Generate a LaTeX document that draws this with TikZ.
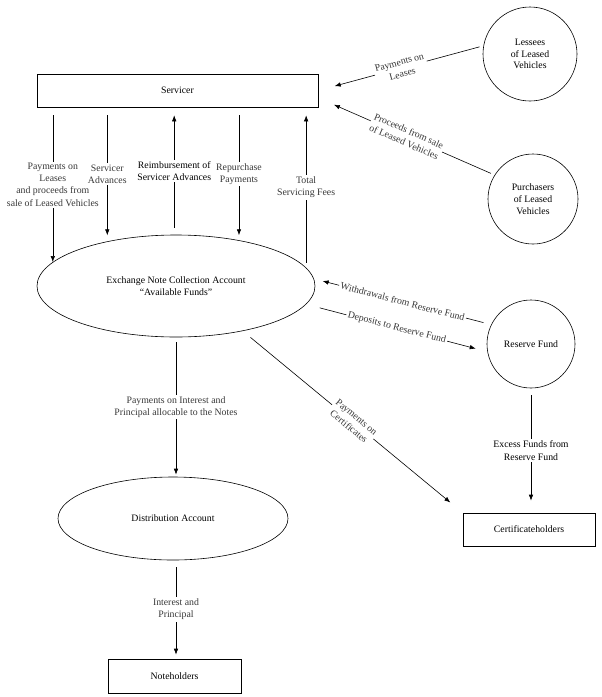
\documentclass[tikz,border=0pt]{standalone}
\usepackage{fontspec}
\setmainfont{Liberation Serif}
\usetikzlibrary{arrows.meta,shapes.geometric,positioning}
\tikzset{
  basic/.style   = {draw, line width=0.6pt, align=center, inner sep=2pt,
                    font=\fontsize{9.8}{11.8}\selectfont},
  party/.style   = {basic, circle, minimum size=#1},
  account/.style = {basic, ellipse},
  holder/.style  = {basic, rectangle, minimum height=33pt},
  flow/.style    = {->, line width=0.6pt},
  lbl/.style     = {fill=white, inner sep=1.5pt, align=center, text=black!78,
                    font=\fontsize{9.8}{12.2}\selectfont},
  lbl dark/.style = {lbl, text=black}
}

\begin{document}
\begin{tikzpicture}[x=1pt, y=-1pt, >={Latex[length=6pt,width=4.5pt]}]
\useasboundingbox (0,0) rectangle (602,697);

% servicer and the accounts
\node[holder, minimum width=281pt] (serv) at (177.5,90.5) {Servicer};
\node[account, minimum width=278pt, minimum height=102pt] (enca) at (176,286)
  {Exchange Note Collection Account\\“Available Funds”};
\node[account, minimum width=230pt, minimum height=83pt,
      below of = enca, node distance=232.5pt, xshift=-3pt] (dist) {Distribution Account};
\node[holder, minimum width=133pt, minimum height=34pt,
      below of = dist, node distance=157.5pt, xshift=1.5pt] (note) {Noteholders};

% the parties on the right
\node[party=94pt] (less) at (530,54) {Lessees\\of Leased\\Vehicles};
\node[party=90pt, below of = less, node distance=145pt, xshift=3pt] (purch) {Purchasers\\of Leased\\Vehicles};
\node[party=88pt] (rf) at (531,344) {Reserve Fund};
\node[holder, minimum width=132pt, below of = rf, node distance=185.5pt, xshift=-2pt] (cert) {Certificateholders};

% between servicer and collection account
\draw[flow, shorten <=8pt] (serv.south -| enca.169) -- (enca.169)
  node[lbl, midway] {Payments on\\Leases\\and proceeds from\\sale of Leased Vehicles};
\draw[flow, shorten <=8pt, shorten >=6pt] (serv.south -| enca.147) -- (enca.147)
  node[lbl, midway] {Servicer\\Advances};
\draw[flow, shorten <=7pt, shorten >=8pt] (enca.92) -- (serv.south -| enca.92)
  node[lbl dark, midway] {Reimbursement of\\Servicer Advances};
\draw[flow, shorten <=8pt, shorten >=5pt] (serv.south -| enca.36) -- (enca.36)
  node[lbl, midway] {Repurchase\\Payments};
\draw[flow, shorten <=5pt, shorten >=8pt] (enca.8) -- (serv.south -| enca.8)
  node[lbl, midway] {Total\\Servicing Fees};

% into the servicer
\draw[flow, shorten <=4pt, shorten >=17pt] (less.170) -- (serv.east)
  node[lbl, midway, sloped] {Payments on\\Leases};
\draw[flow, shorten <=4pt, shorten >=17pt] (purch.148) -- (serv.-3)
  node[lbl, midway, sloped] {Proceeds from sale\\of Leased Vehicles};

% reserve fund
\draw[flow, shorten <=8pt, shorten >=9pt] (rf.154) -- (enca.3)
  node[lbl, midway, sloped] {Withdrawals from Reserve Fund};
\draw[flow, shorten <=14pt, shorten >=12pt] (enca.-8) -- (rf.190)
  node[lbl, midway, sloped] {Deposits to Reserve Fund};
\draw[flow, shorten <=7pt, shorten >=12pt] (rf.south) -- (rf.south |- cert.north)
  node[lbl dark, midway] {Excess Funds from\\Reserve Fund};

% payments out
\draw[flow, shorten <=10pt, shorten >=16pt] (enca.-34) -- (cert.north west)
  node[lbl, midway, sloped] {Payments on\\Certificates};
\draw[flow, shorten <=5pt, shorten >=2pt] (enca.south) -- (enca.south |- dist.north)
  node[lbl, midway] {Payments on Interest and\\Principal allocable to the Notes};
\draw[flow, shorten <=7pt, shorten >=4pt] (dist.south -| enca.south) -- (note.north -| enca.south)
  node[lbl, midway] {Interest and\\Principal};
\end{tikzpicture}
\end{document}
